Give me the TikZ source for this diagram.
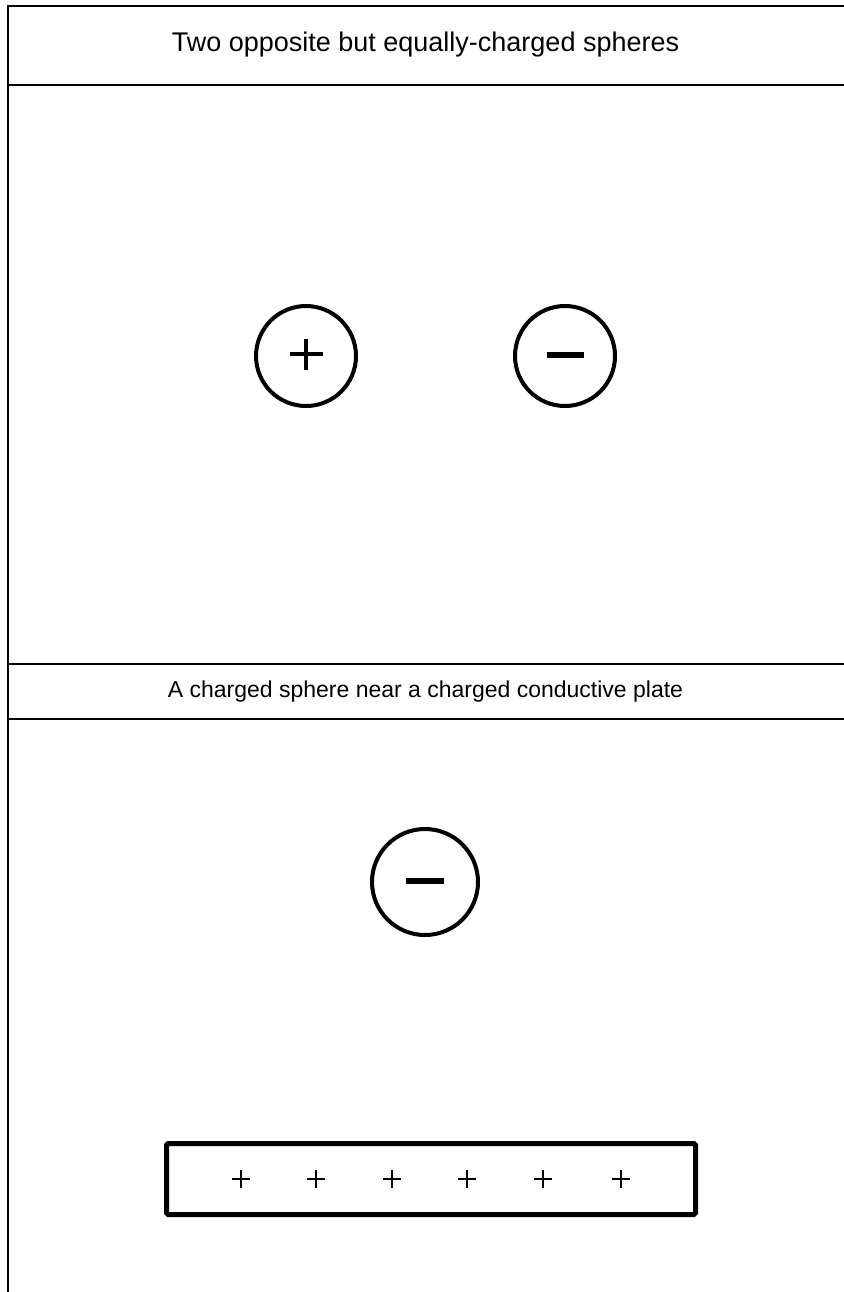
\documentclass[tikz,border=0pt]{standalone}
\usepackage{fontspec}
\setmainfont{Liberation Sans}
\begin{document}
\begin{tikzpicture}[x=0.5pt,y=-0.5pt,
  rule/.style={line width=1pt, line cap=rect},
  sphere/.style={circle, draw, line width=2pt, minimum size=50pt, inner sep=0pt},
  bigsphere/.style={sphere, minimum size=53pt},
  sign/.style={line width=2.2pt},
  plate/.style={draw, line width=2.5pt, rounded corners=0.8pt, minimum width=264.5pt, minimum height=35.5pt, inner sep=0pt},
  platesign/.style={line width=0.9pt},
  titleA/.style={font=\fontsize{13.5}{16}\selectfont, inner sep=0pt},
  titleB/.style={font=\fontsize{11.5}{14}\selectfont, inner sep=0pt}]
\useasboundingbox (0,0) rectangle (843,1292);
% table rules
\coordinate (l0) at (8,6);    \coordinate (r0) at (843,6);
\coordinate (l1) at (8,85);   \coordinate (r1) at (843,85);
\coordinate (l2) at (8,664);  \coordinate (r2) at (843,664);
\coordinate (l3) at (8,719);  \coordinate (r3) at (843,719);
\coordinate (lb) at (8,1292);
\draw[rule] (l0) -- (r0);
\draw[rule] (l1) -- (r1);
\draw[rule] (l2) -- (r2);
\draw[rule] (l3) -- (r3);
\draw[line width=1pt] (l0) -- (lb);
% headers
\node[titleA] (h1) at (425.5,45) {Two opposite but equally-charged spheres};
\node[titleB] (h2) at (425.5,692) {A charged sphere near a charged conductive plate};
% spheres
\node[sphere] (p) at (306,356) {};
\node[sphere] (m) at (565,356) {};
\draw[sign] ([xshift=-8.25pt,yshift=1pt]p.center) -- ([xshift=8.25pt,yshift=1pt]p.center);
\draw[sign] ([yshift=8.5pt]p.center) -- ([yshift=-7pt]p.center);
\draw[sign,line width=2.6pt] ([xshift=-9.25pt,yshift=0.5pt]m.center) -- ([xshift=9.25pt,yshift=0.5pt]m.center);
\node[bigsphere] (m2) at (425,882) {};
\draw[sign,line width=2.6pt] ([xshift=-9.5pt,yshift=0.5pt]m2.center) -- ([xshift=9.5pt,yshift=0.5pt]m2.center);
% plate
\node[plate] (pl) at (431,1179) {};
\foreach \dx in {-190,-115,-39,36,112,190}{
  \draw[platesign] ([xshift=\dx*0.5pt-4.5pt]pl.center) -- ([xshift=\dx*0.5pt+4.5pt]pl.center);
  \draw[platesign] ([xshift=\dx*0.5pt,yshift=-4.5pt]pl.center) -- ([xshift=\dx*0.5pt,yshift=4.5pt]pl.center);
}
\end{tikzpicture}
\end{document}
